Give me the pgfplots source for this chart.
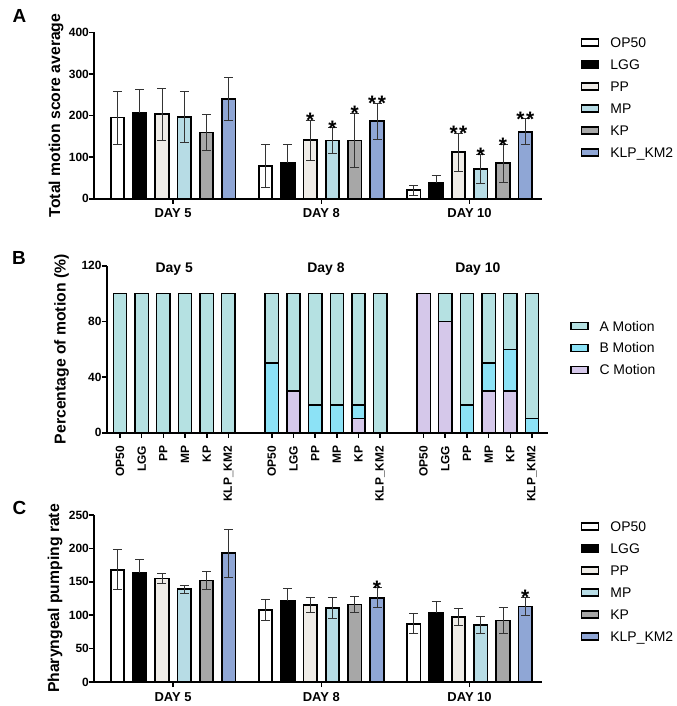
\documentclass[border=0pt]{standalone}
\usepackage{fontspec}
\setmainfont{Liberation Sans}
\usepackage{pgfplots}
\pgfplotsset{compat=1.18}

% bar colours
\definecolor{cOP}{HTML}{FFFFFF}
\definecolor{cLGG}{HTML}{000000}
\definecolor{cPP}{HTML}{EFECE7}
\definecolor{cMP}{HTML}{B7DCE5}
\definecolor{cKP}{HTML}{A7A7A7}
\definecolor{cKLP}{HTML}{8FA6D5}
\definecolor{mA}{HTML}{B5E1E2}
\definecolor{mB}{HTML}{8CE2F6}
\definecolor{mC}{HTML}{D5C8EA}

\newcommand\tickfont{\fontsize{12}{12}\selectfont\bfseries}
\newcommand\dayfont{\fontsize{13}{13}\selectfont\bfseries}
\newcommand\labfont{\fontsize{15.8}{16}\selectfont\bfseries}
\newcommand\legfont{\fontsize{14}{14}\selectfont}
\newcommand\starfont{\fontsize{21}{21}\selectfont\bfseries}
\newcommand\panelfont{\fontsize{19}{19}\selectfont\bfseries}
\newcommand\two{*\hspace{1.5bp}*}

\pgfplotsset{
  gp/.style={
    scale only axis,
    axis lines*=left,
    axis line style={line width=1.6bp, -},
    major tick style={line width=1.6bp, black},
    major tick length=5bp,
    tick align=outside,
    clip=false,
    /pgf/number format/assume math mode=true,
    yticklabel style={font=\tickfont, inner sep=0pt},
    xticklabel style={font=\dayfont, inner sep=0pt, anchor=north, text height=9.3bp},
    xticklabel shift=4.5bp,
    error bars/error bar style={line width=0.9bp, draw=black!80, solid},
    error bars/error mark options={rotate=90, line width=0.9bp, mark size=4.5bp, draw=black!80},
    legend cell align=left,
    legend style={draw=none, fill=none, inner sep=0pt, outer sep=0pt,
      font=\legfont, row sep=8.9bp, column sep=0pt,
      nodes={inner sep=0pt, text height=10bp, text depth=3bp}},
  },
  gpbar/.style={ybar, bar width=13.5bp, bar shift=0pt, draw=black, line width=1.8bp},
  boxlegend/.style={every axis plot post/.append style={
      legend image code/.code={
        \draw[##1, line width=1.6bp] (0bp,-2bp) rectangle (17bp,5bp);
        \path (28bp,0bp);}}},
  stars/.style={forget plot, draw=none, mark=none, nodes near coords,
    point meta=explicit symbolic,
    every node near coord/.style={font=\starfont, anchor=base, inner sep=0pt, yshift=-7.5bp}},
}

\begin{document}
\begin{tikzpicture}
\path[use as bounding box] (0,0) rectangle (677bp,-706bp);

% ---------------- A: total motion score ----------------
\begin{axis}[gp, boxlegend,
  at={(94bp,-198.7bp)}, anchor=south west,
  width=448bp, height=166.4bp,
  xmin=-1.05, xmax=19.05, ymin=0, ymax=400,
  ytick={0,100,...,400},
  xtick={2.5,9.15,15.8}, xticklabels={DAY 5,DAY 8,DAY 10},
  legend style={at={(1,1)}, anchor=north west, xshift=38.7bp, yshift=-5.4bp},
]
\addplot[gpbar, fill=cOP, error bars/.cd, y dir=both, y explicit]
  coordinates {(0,195) +- (0,64) (6.65,79) +- (0,51) (13.3,20) +- (0,12)};
\addplot[gpbar, fill=cLGG, error bars/.cd, y dir=plus, y explicit]
  coordinates {(1,207) +- (0,56) (7.65,87) +- (0,44) (14.3,37) +- (0,18)};
\addplot[gpbar, fill=cPP, error bars/.cd, y dir=both, y explicit]
  coordinates {(2,203) +- (0,63) (8.65,141) +- (0,48) (15.3,112) +- (0,46)};
\addplot[gpbar, fill=cMP, error bars/.cd, y dir=both, y explicit]
  coordinates {(3,196) +- (0,61) (9.65,140) +- (0,31) (16.3,71) +- (0,35)};
\addplot[gpbar, fill=cKP, error bars/.cd, y dir=both, y explicit]
  coordinates {(4,159) +- (0,43) (10.65,140) +- (0,65) (17.3,85) +- (0,45)};
\addplot[gpbar, fill=cKLP, error bars/.cd, y dir=both, y explicit]
  coordinates {(5,240) +- (0,52) (11.65,186) +- (0,44) (18.3,161) +- (0,31)};
\addplot[stars] coordinates {
  (8.65,189) [*] (9.65,171) [*] (10.65,205) [*] (11.65,230) [\two]
  (15.3,158) [\two] (16.3,106) [*] (17.3,130) [*] (18.3,192) [\two]};
\legend{OP50,LGG,PP,MP,KP,KLP\_KM2}
\end{axis}

% ---------------- B: motion class percentages ----------------
\begin{axis}[gp, boxlegend, ybar stacked, bar width=13.3bp,
  at={(106.7bp,-432.7bp)}, anchor=south west,
  width=441.6bp, height=167bp,
  xmin=-0.613, xmax=19.75, ymin=0, ymax=120,
  ytick={0,40,80,120},
  xtick={0,1,2,3,4,5,7,8,9,10,11,12,14,15,16,17,18,19},
  xticklabels={OP50,LGG,PP,MP,KP,KLP\_KM2,OP50,LGG,PP,MP,KP,KLP\_KM2,OP50,LGG,PP,MP,KP,KLP\_KM2},
  xticklabel style={font=\tickfont, rotate=90, anchor=east, text height=, text depth=},
  xticklabel shift=8bp,
  reverse legend,
  legend style={at={(1,1)}, anchor=north west, xshift=21.7bp, yshift=-55.3bp},
]
\addplot[draw=black, line width=1.4bp, fill=mC] coordinates {
  (0,0) (1,0) (2,0) (3,0) (4,0) (5,0)
  (7,0) (8,30) (9,0) (10,0) (11,10) (12,0)
  (14,100) (15,80) (16,0) (17,30) (18,30) (19,0)};
\addplot[draw=black, line width=1.4bp, fill=mB] coordinates {
  (0,0) (1,0) (2,0) (3,0) (4,0) (5,0)
  (7,50) (8,0) (9,20) (10,20) (11,10) (12,0)
  (14,0) (15,0) (16,20) (17,20) (18,30) (19,10)};
\addplot[draw=black, line width=1.4bp, fill=mA] coordinates {
  (0,100) (1,100) (2,100) (3,100) (4,100) (5,100)
  (7,50) (8,70) (9,80) (10,80) (11,80) (12,100)
  (14,0) (15,20) (16,80) (17,50) (18,40) (19,90)};
\legend{C Motion,B Motion,A Motion}
\node[font=\fontsize{14}{14}\selectfont\bfseries, anchor=base, yshift=-6.3bp] at (axis cs:2.5,120) {Day 5};
\node[font=\fontsize{14}{14}\selectfont\bfseries, anchor=base, yshift=-6.3bp] at (axis cs:9.5,120) {Day 8};
\node[font=\fontsize{14}{14}\selectfont\bfseries, anchor=base, yshift=-6.3bp] at (axis cs:16.5,120) {Day 10};
\end{axis}

% ---------------- C: pharyngeal pumping ----------------
\begin{axis}[gp, boxlegend,
  at={(94bp,-682bp)}, anchor=south west,
  width=448bp, height=167bp,
  xmin=-1.05, xmax=19.05, ymin=0, ymax=250,
  ytick={0,50,...,250},
  xtick={2.5,9.15,15.8}, xticklabels={DAY 5,DAY 8,DAY 10},
  legend style={at={(1,1)}, anchor=north west, xshift=38.7bp, yshift=-6.7bp},
]
\addplot[gpbar, fill=cOP, error bars/.cd, y dir=both, y explicit]
  coordinates {(0,168) +- (0,30) (6.65,108) +- (0,16) (13.3,87) +- (0,15)};
\addplot[gpbar, fill=cLGG, error bars/.cd, y dir=plus, y explicit]
  coordinates {(1,163) +- (0,21) (7.65,122) +- (0,18) (14.3,104) +- (0,16)};
\addplot[gpbar, fill=cPP, error bars/.cd, y dir=both, y explicit]
  coordinates {(2,155) +- (0,8) (8.65,115) +- (0,11) (15.3,97) +- (0,13)};
\addplot[gpbar, fill=cMP, error bars/.cd, y dir=both, y explicit]
  coordinates {(3,139) +- (0,6) (9.65,111) +- (0,16) (16.3,85) +- (0,13)};
\addplot[gpbar, fill=cKP, error bars/.cd, y dir=both, y explicit]
  coordinates {(4,152) +- (0,14) (10.65,116) +- (0,12) (17.3,92) +- (0,19)};
\addplot[gpbar, fill=cKLP, error bars/.cd, y dir=both, y explicit]
  coordinates {(5,193) +- (0,36) (11.65,126) +- (0,15) (18.3,113) +- (0,14)};
\addplot[stars] coordinates {(11.65,141) [*] (18.3,127) [*]};
\legend{OP50,LGG,PP,MP,KP,KLP\_KM2}
\end{axis}

% axis titles and panel letters
\node[rotate=90, font=\labfont] at (56bp,-115.5bp) {Total motion score average};
\node[rotate=90, font=\labfont] at (61.5bp,-349.2bp) {Percentage of motion (\%)};
\node[rotate=90, font=\labfont] at (55bp,-598.5bp) {Pharyngeal pumping rate};
\node[font=\panelfont] at (19.5bp,-16bp) {A};
\node[font=\panelfont] at (19bp,-258bp) {B};
\node[font=\panelfont] at (19.5bp,-508.3bp) {C};
\end{tikzpicture}
\end{document}
